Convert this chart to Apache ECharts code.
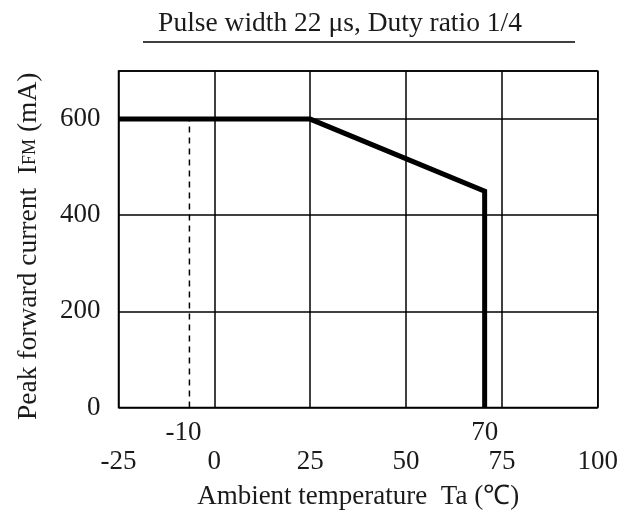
<!DOCTYPE html>
<html>
<head>
<meta charset="utf-8">
<script src="https://cdn.jsdelivr.net/npm/echarts@6/dist/echarts.min.js"></script>
<style>html,body{margin:0;padding:0;background:#fff}#c{width:621px;height:518px}</style>
</head>
<body>
<div id="c"></div>
<script>
// Data
var xTicks = [-25, 0, 25, 50, 75, 100];
var yTicks = [0, 200, 400, 600];
var deratingX = [-25, 25, 70.5, 70.5];
var deratingY = [600, 600, 450, 0];
var dashedX = [-6.5, -6.5];
var dashedY = [0, 600];
var markerX = [-6.5, 70.5];
var markerLabels = ['-10', '70'];

var FONT = 'Liberation Serif';
var TXT = '#1a1a1a';
var chart = echarts.init(document.getElementById('c'));

function pairs(xs, ys) { return xs.map(function (x, i) { return [x, ys[i]]; }); }

chart.setOption({
  animation: false,
  backgroundColor: '#fff',
  title: {
    text: 'Pulse width 22 μs, Duty ratio 1/4',
    left: 335, top: 5, textAlign: 'center',
    textStyle: { fontFamily: FONT, fontSize: 27.5, fontWeight: 'normal', color: TXT }
  },
  graphic: [{
    type: 'line', shape: { x1: 143, y1: 42, x2: 575, y2: 42 },
    style: { stroke: '#000', lineWidth: 1.5 }
  }],
  grid: { left: 118.5, right: 22.5, top: 71, bottom: 110.5, show: true, borderColor: '#000', borderWidth: 1.5 },
  xAxis: {
    type: 'value', min: -25, max: 100, interval: 25,
    name: 'Ambient temperature  Ta (℃)', nameLocation: 'middle', nameGap: 76,
    nameTextStyle: { fontFamily: FONT, fontSize: 27, color: TXT },
    axisLine: { show: false }, axisTick: { show: false },
    axisLabel: { margin: 41, fontFamily: FONT, fontSize: 27, color: TXT,
      formatter: function (v) { return xTicks.indexOf(v) >= 0 ? String(v) : ''; } },
    splitLine: { show: true, lineStyle: { color: '#000', width: 1.5 } }
  },
  yAxis: {
    type: 'value', min: 0, max: 700, interval: 200,
    name: '{n|Peak forward current  I}{s|FM}{n| (mA)}', nameLocation: 'middle', nameGap: 76,
    nameTextStyle: { padding: [0, 14, 0, 0], rich: {
      n: { fontFamily: FONT, fontSize: 27.5, color: TXT },
      s: { fontFamily: FONT, fontSize: 18, color: TXT, padding: [3, 0, 0, 0] }
    } },
    axisLine: { show: false }, axisTick: { show: false },
    axisLabel: { margin: 18, fontFamily: FONT, fontSize: 27, color: TXT,
      formatter: function (v) { return yTicks.indexOf(v) >= 0 ? String(v) : ''; } },
    splitLine: { show: true, lineStyle: { color: '#000', width: 1.5 } }
  },
  series: [
    {
      type: 'line', data: pairs(dashedX, dashedY), symbol: 'none',
      lineStyle: { color: '#000', width: 1.5, type: [6, 5] }, z: 3
    },
    {
      type: 'line', data: pairs(deratingX, deratingY), symbol: 'none',
      lineStyle: { color: '#000', width: 5, join: 'miter', cap: 'butt' }, z: 4
    },
    {
      type: 'scatter', symbolSize: 0.01, itemStyle: { opacity: 1, color: '#000' },
      data: markerX.map(function (x) { return [x, 0]; }),
      label: { show: true, position: 'bottom', distance: 12, opacity: 1,
        fontFamily: FONT, fontSize: 27, color: TXT,
        formatter: function (p) { return markerLabels[p.dataIndex]; } },
      labelLayout: function (p) { return p.dataIndex === 0 ? { dx: -6 } : {}; },
      silent: true, z: 5
    }
  ]
});
</script>
</body>
</html>
